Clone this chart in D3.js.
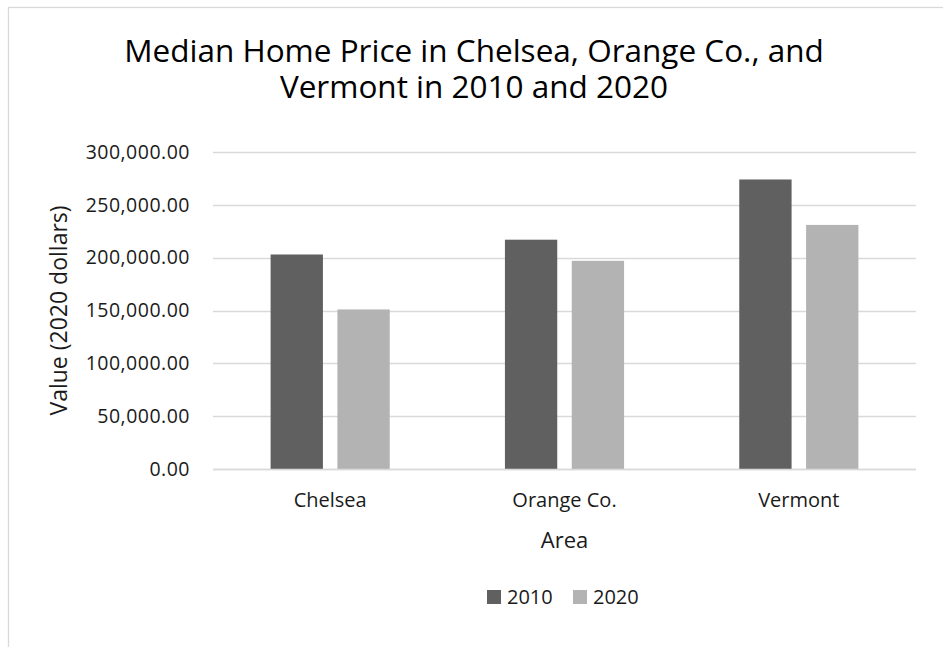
<!DOCTYPE html>
<meta charset="utf-8">
<head>
<style>
  body { margin: 0; background: #fff; }
  svg { font-family: 'Open Sans', sans-serif; display: block; }
  .grid line { stroke: #d9d9d9; stroke-width: 1.3px; }
  .tick-label { font-size: 19.5px; fill: #1a1a1a; }
</style>
</head>
<body>
<svg width="943" height="647"></svg>
<script src="https://d3js.org/d3.v7.min.js"></script>
<script>
// data
var areas = ["Chelsea", "Orange Co.", "Vermont"];
var years = ["2010", "2020"];
var values2010 = [203000, 217000, 274000];
var values2020 = [151000, 197000, 231000];
var yTicks = [0, 50000, 100000, 150000, 200000, 250000, 300000];

var colors = { "2010": "#606060", "2020": "#b3b3b3" };

var rows = areas.map(function(a, i) {
  return { area: a, "2010": values2010[i], "2020": values2020[i] };
});

var svg = d3.select("svg");

// outer chart frame (runs off the page on right and bottom)
svg.append("rect")
  .attr("x", 8.5).attr("y", 7.5)
  .attr("width", 1200).attr("height", 1200)
  .attr("fill", "none")
  .attr("stroke", "#d9d9d9")
  .attr("stroke-width", 1.3);

var plot = { left: 213, right: 916, top: 152, bottom: 469 };

var y = d3.scaleLinear().domain([0, 300000]).range([plot.bottom, plot.top]);

var x0 = d3.scaleBand().domain(areas).range([plot.left, plot.right]).padding(0);
var x1 = d3.scaleBand().domain(years).range([0, x0.bandwidth()])
  .paddingInner(0.217).paddingOuter(0.862);

// gridlines
svg.append("g").attr("class", "grid")
  .selectAll("line")
  .data(yTicks)
  .enter().append("line")
    .attr("x1", plot.left).attr("x2", plot.right)
    .attr("y1", function(d) { return Math.round(y(d)) + 0.5; })
    .attr("y2", function(d) { return Math.round(y(d)) + 0.5; });

// y tick labels
var fmt = d3.format(",.2f");
svg.append("g")
  .selectAll("text")
  .data(yTicks)
  .enter().append("text")
    .attr("class", "tick-label")
    .attr("x", 190)
    .attr("y", function(d) { return y(d); })
    .attr("dy", "0.35em")
    .attr("text-anchor", "end")
    .style("letter-spacing", "0.5px")
    .text(function(d) { return fmt(d); });

// bars
var group = svg.append("g").selectAll("g")
  .data(rows)
  .enter().append("g")
    .attr("transform", function(d) { return "translate(" + x0(d.area) + ",0)"; });

group.selectAll("rect")
  .data(function(d) { return years.map(function(k) { return { key: k, value: d[k] }; }); })
  .enter().append("rect")
    .attr("x", function(d) { return x1(d.key); })
    .attr("y", function(d) { return y(d.value); })
    .attr("width", x1.bandwidth())
    .attr("height", function(d) { return y(0) - y(d.value); })
    .attr("fill", function(d) { return colors[d.key]; });

// baseline redraw on top of bars
svg.append("line")
  .attr("x1", plot.left).attr("x2", plot.right)
  .attr("y1", Math.round(y(0)) + 0.5).attr("y2", Math.round(y(0)) + 0.5)
  .attr("stroke", "#d9d9d9").attr("stroke-width", 1.3);

// category labels
svg.append("g")
  .selectAll("text")
  .data(areas)
  .enter().append("text")
    .attr("x", function(d) { return x0(d) + x0.bandwidth() / 2; })
    .attr("y", 507)
    .attr("text-anchor", "middle")
    .style("font-size", "20px")
    .style("fill", "#1a1a1a")
    .text(function(d) { return d; });

// axis titles
svg.append("text")
  .attr("x", (plot.left + plot.right) / 2)
  .attr("y", 548)
  .attr("text-anchor", "middle")
  .style("font-size", "22px")
  .style("fill", "#1a1a1a")
  .text("Area");

svg.append("text")
  .attr("transform", "translate(67," + ((plot.top + plot.bottom) / 2) + ") rotate(-90)")
  .attr("text-anchor", "middle")
  .style("font-size", "23px")
  .style("fill", "#1a1a1a")
  .text("Value (2020 dollars)");

// title, two lines
var title = svg.append("text")
  .attr("text-anchor", "middle")
  .style("font-size", "31.5px")
  .style("fill", "#000");
title.append("tspan").attr("x", 474).attr("y", 62)
  .text("Median Home Price in Chelsea, Orange Co., and");
title.append("tspan").attr("x", 474).attr("y", 98)
  .text("Vermont in 2010 and 2020");

// legend
var legend = svg.append("g").selectAll("g")
  .data(years)
  .enter().append("g")
    .attr("transform", function(d, i) { return "translate(" + (487 + i * 86) + ",590)"; });

legend.append("rect")
  .attr("width", 14).attr("height", 14)
  .attr("fill", function(d) { return colors[d]; });

legend.append("text")
  .attr("x", 20).attr("y", 14)
  .style("font-size", "20px")
  .style("fill", "#1a1a1a")
  .text(function(d) { return d; });
</script>
</body>
